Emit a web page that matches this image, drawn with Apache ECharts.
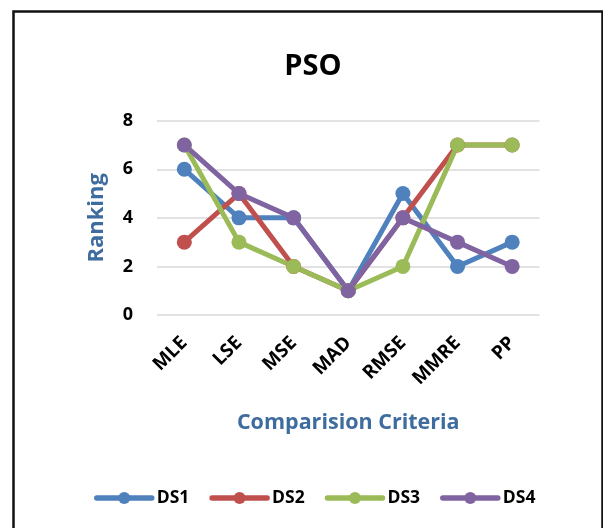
<!DOCTYPE html>
<html>
<head>
<meta charset="utf-8">
<script src="https://cdn.jsdelivr.net/npm/echarts@6/dist/echarts.min.js"></script>
<style>
html,body{margin:0;padding:0;background:#fff;}
#chart{width:603px;height:528px;}
</style>
</head>
<body>
<div id="chart"></div>
<script>
const categories = ['MLE', 'LSE', 'MSE', 'MAD', 'RMSE', 'MMRE', 'PP'];
const ds1 = [6, 4, 4, 1, 5, 2, 3];
const ds2 = [3, 5, 2, 1, 4, 7, 7];
const ds3 = [7, 3, 2, 1, 2, 7, 7];
const ds4 = [7, 5, 4, 1, 4, 3, 2];
const seriesNames = ['DS1', 'DS2', 'DS3', 'DS4'];
const yTicks = [0, 2, 4, 6, 8];

const colors = ['#4F81BD', '#C0504D', '#9BBB59', '#8064A2'];
const FONT = 'Open Sans';
const chart = echarts.init(document.getElementById('chart'), null, {renderer: 'canvas'});

function mk(name, data, i) {
  return {
    name: name,
    type: 'line',
    data: data,
    symbol: 'circle',
    symbolSize: 15,
    lineStyle: {width: 5, color: colors[i], cap: 'round', join: 'round'},
    itemStyle: {color: colors[i]},
    emphasis: {disabled: true},
    animation: false
  };
}

chart.setOption({
  animation: false,
  color: colors,
  title: {
    text: 'PSO',
    left: 308,
    textAlign: 'center',
    top: 47,
    textStyle: {fontFamily: FONT, fontWeight: 'bold', fontSize: 29, color: '#000'}
  },
  graphic: [{
    type: 'rect',
    shape: {x: 13.5, y: 11.5, width: 589, height: 600},
    style: {fill: 'none', stroke: '#111', lineWidth: 2.5},
    silent: true,
    z: -1
  }],
  grid: {left: 157, right: 63.5, top: 120.7, bottom: 213, containLabel: false},
  legend: {
    data: seriesNames,
    left: 89,
    top: 484,
    itemWidth: 55,
    itemHeight: 15,
    itemGap: 20,
    lineStyle: {width: 5.5, cap: 'round'},
    textStyle: {fontFamily: FONT, fontWeight: 'bold', fontSize: 17.5, color: '#000'}
  },
  xAxis: {
    type: 'category',
    data: categories,
    boundaryGap: true,
    name: 'Comparision Criteria',
    nameLocation: 'middle',
    nameGap: 97,
    nameTextStyle: {fontFamily: FONT, fontWeight: 'bold', fontSize: 21.5, color: '#3F6C9E'},
    axisLine: {show: false},
    axisTick: {show: false},
    axisLabel: {rotate: 45, margin: 25, fontFamily: FONT, fontWeight: 'bold', fontSize: 19, color: '#000', interval: 0}
  },
  yAxis: {
    type: 'value',
    min: yTicks[0],
    max: yTicks[yTicks.length - 1],
    interval: 2,
    name: 'Ranking',
    nameLocation: 'middle',
    nameGap: 49,
    nameTextStyle: {fontFamily: FONT, fontWeight: 'bold', fontSize: 22, color: '#3F6C9E'},
    axisLine: {show: false},
    axisTick: {show: false},
    splitLine: {lineStyle: {color: '#D9D9D9', width: 1.5}},
    axisLabel: {margin: 24, fontFamily: FONT, fontWeight: 'bold', fontSize: 18, color: '#000'}
  },
  series: [mk('DS1', ds1, 0), mk('DS2', ds2, 1), mk('DS3', ds3, 2), mk('DS4', ds4, 3)]
});
</script>
</body>
</html>
